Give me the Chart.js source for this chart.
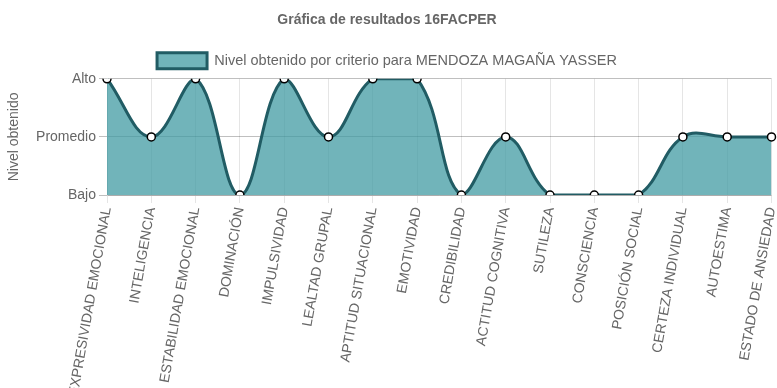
<!DOCTYPE html>
<html>
<head>
<meta charset="utf-8">
<script src="https://cdn.jsdelivr.net/npm/chart.js@4"></script>
<style>
  html, body { margin: 0; padding: 0; background: #fff; }
  #wrap { width: 777px; height: 388px; }
</style>
</head>
<body>
<div id="wrap"><canvas id="resultChart"></canvas></div>
<script>
const criterios = ['EXPRESIVIDAD EMOCIONAL', 'INTELIGENCIA', 'ESTABILIDAD EMOCIONAL', 'DOMINACIÓN',
    'IMPULSIVIDAD', 'LEALTAD GRUPAL', 'APTITUD SITUACIONAL', 'EMOTIVIDAD', 'CREDIBILIDAD',
    'ACTITUD COGNITIVA', 'SUTILEZA', 'CONSCIENCIA', 'POSICIÓN SOCIAL', 'CERTEZA INDIVIDUAL',
    'AUTOESTIMA', 'ESTADO DE ANSIEDAD'];
const niveles = [3, 2, 3, 1, 3, 2, 3, 3, 1, 2, 1, 1, 1, 2, 2, 2];
const nivelLabels = { 1: 'Bajo', 2: 'Promedio', 3: 'Alto' };

Chart.defaults.font.family = "Arial, 'Liberation Sans', Helvetica, sans-serif";
Chart.defaults.color = '#666';

document.addEventListener('DOMContentLoaded', function () {
    const ctx = document.getElementById('resultChart').getContext('2d');
    new Chart(ctx, {
        type: 'line',
        data: {
            labels: criterios,
            datasets: [{
                label: 'Nivel obtenido por criterio para MENDOZA MAGAÑA YASSER',
                data: niveles,
                backgroundColor: 'rgba(65, 155, 163, 0.75)',
                borderColor: '#215c64',
                borderWidth: 3,
                fill: 'start',
                tension: 0.4,
                pointRadius: 4,
                pointBackgroundColor: '#fff',
                pointBorderColor: '#000',
                pointBorderWidth: 1.5
            }]
        },
        options: {
            responsive: true,
            maintainAspectRatio: false,
            animation: false,
            layout: { padding: { left: 0, right: 3, top: 2, bottom: 0 } },
            plugins: {
                title: {
                    display: true,
                    text: 'Gráfica de resultados 16FACPER',
                    font: { size: 14, weight: 'bold' },
                    padding: { top: 10, bottom: 12 }
                },
                legend: {
                    labels: {
                        font: { size: 14.5 },
                        boxWidth: 50,
                        boxHeight: 16,
                        padding: 12
                    }
                },
                tooltip: { enabled: false }
            },
            scales: {
                x: {
                    grid: { color: 'rgba(0,0,0,0.1)', tickLength: 8 },
                    ticks: {
                        autoSkip: false,
                        minRotation: 80,
                        maxRotation: 80,
                        font: { size: 14 }
                    },
                    afterFit: function (scale) {
                        scale.paddingLeft = 0;
                        scale.paddingRight = 0;
                    }
                },
                y: {
                    min: 1,
                    max: 3,
                    grid: { color: 'rgba(0,0,0,0.25)', tickLength: 8 },
                    ticks: {
                        stepSize: 1,
                        font: { size: 14 },
                        callback: function (v) { return nivelLabels[v] || ''; }
                    },
                    title: {
                        display: true,
                        text: 'Nivel obtenido',
                        font: { size: 14 },
                        padding: { top: 6, bottom: 4 }
                    },
                    afterFit: function (scale) {
                        scale.width = 107;
                    }
                }
            }
        }
    });
});
</script>
</body>
</html>
